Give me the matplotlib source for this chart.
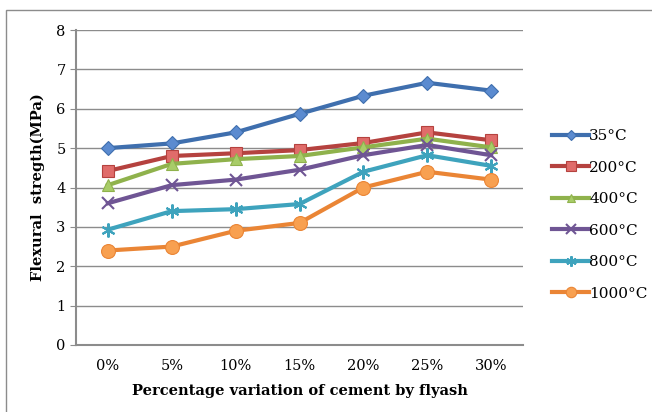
import matplotlib.pyplot as plt
from matplotlib.patches import Rectangle

# data
percent = ['0%', '5%', '10%', '15%', '20%', '25%', '30%']
t35 = [5.0, 5.12, 5.4, 5.87, 6.33, 6.66, 6.46]
t200 = [4.42, 4.8, 4.87, 4.95, 5.13, 5.4, 5.2]
t400 = [4.06, 4.6, 4.72, 4.8, 5.02, 5.24, 5.02]
t600 = [3.6, 4.06, 4.2, 4.45, 4.82, 5.08, 4.82]
t800 = [2.93, 3.4, 3.45, 3.58, 4.4, 4.82, 4.55]
t1000 = [2.4, 2.5, 2.9, 3.1, 4.0, 4.4, 4.2]
labels = ['35°C', '200°C', '400°C', '600°C', '800°C', '1000°C']

series = [t35, t200, t400, t600, t800, t1000]
line_colors = ['#3f6fae', '#b5423f', '#8fb24c', '#6f5594', '#3ea3bd', '#ea8535']
face_colors = ['#5b8bd0', '#e06c6a', '#a8cc68', '#8a70b0', '#5cc0da', '#f8a050']
markers = ['D', 's', '^', 'x', (6, 2, 0), 'o']
msizes = [7, 9, 8, 9, 10, 10]

plt.rcParams['font.family'] = ['DejaVu Serif']

fig = plt.figure(figsize=(6.52, 4.12), dpi=100)
ax = fig.add_axes([76/652, 1-345/412, (523-76)/652, (345-30)/412])

# outer chart frame
fig.patches.append(Rectangle((6/652, -0.05), 1.0, 1-10/412+0.05, transform=fig.transFigure,
                             fill=False, edgecolor='#8c8c8c', linewidth=1.0))

x = list(range(len(percent)))
for vals, lab, lc, fc, m, ms in zip(series, labels, line_colors, face_colors, markers, msizes):
    if m == 'x' or isinstance(m, tuple):
        ax.plot(x, vals, color=lc, linewidth=3, marker=m, markersize=ms,
                markeredgecolor=lc, markeredgewidth=1.5, label=lab, zorder=3)
    else:
        ax.plot(x, vals, color=lc, linewidth=3, marker=m, markersize=ms,
                markerfacecolor=fc, markeredgecolor=lc, markeredgewidth=0.8, label=lab, zorder=3)

ax.set_xlim(-0.5, len(percent) - 0.5)
ax.set_ylim(0, 8)
ax.set_yticks(range(0, 9))
ax.set_xticks(x)
ax.set_xticklabels(percent)
ax.tick_params(axis='x', length=0, pad=10, labelsize=10.5)
ax.tick_params(axis='y', length=4, color='#8c8c8c', labelsize=10.5)
ax.grid(axis='y', color='#8c8c8c', linewidth=1.0)
ax.set_axisbelow(True)
for s in ['top', 'right']:
    ax.spines[s].set_visible(False)
for s in ['left', 'bottom']:
    ax.spines[s].set_color('#8c8c8c')
    ax.spines[s].set_linewidth(1.5)

ax.set_xlabel('Percentage variation of cement by flyash', fontsize=10.5, fontweight='bold', labelpad=8)
ax.set_ylabel('Flexural  stregth(MPa)', fontsize=10.5, fontweight='bold', labelpad=8)

leg = ax.legend(loc='center left', bbox_to_anchor=(1.035, 0.413), frameon=False,
                fontsize=11, handlelength=2.4, handletextpad=0.0, labelspacing=1.15,
                markerscale=0.75)

fig.savefig('out.png', dpi=100)
